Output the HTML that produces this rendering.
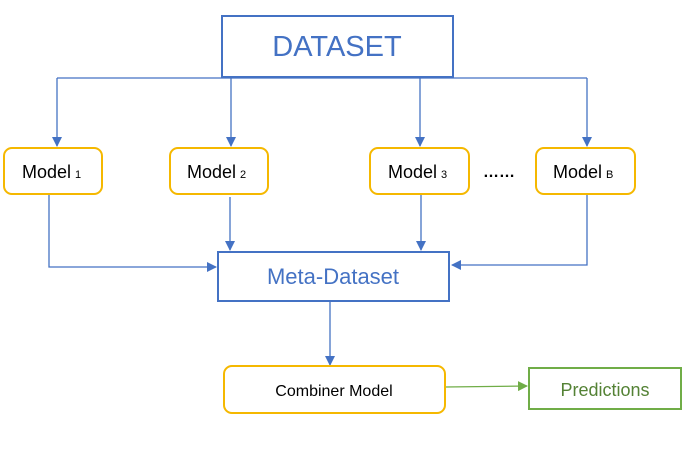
<!DOCTYPE html>
<html><head><style>
body{margin:0;background:#fff;}
svg text{font-family:"Liberation Sans",sans-serif;}
</style></head><body>
<svg width="687" height="444" xmlns="http://www.w3.org/2000/svg">
<defs>
<marker id="ab" markerWidth="10" markerHeight="10" refX="9" refY="5" orient="auto" markerUnits="userSpaceOnUse"><path d="M0,0 L10,5 L0,10 z" fill="#4472c4"/></marker>
<marker id="ag" markerWidth="10" markerHeight="10" refX="9" refY="5" orient="auto" markerUnits="userSpaceOnUse"><path d="M0,0 L10,5 L0,10 z" fill="#70ad47"/></marker>
</defs>
<g stroke="#4472c4" stroke-width="1.3" fill="none">
<polyline points="57,78 587,78"/>
<line x1="57" y1="78" x2="57" y2="146" marker-end="url(#ab)"/>
<line x1="231" y1="78" x2="231" y2="146" marker-end="url(#ab)"/>
<line x1="420" y1="78" x2="420" y2="146" marker-end="url(#ab)"/>
<line x1="587" y1="78" x2="587" y2="146" marker-end="url(#ab)"/>
<polyline points="49,195 49,267 216,267" marker-end="url(#ab)"/>
<line x1="230" y1="197" x2="230" y2="250" marker-end="url(#ab)"/>
<line x1="421" y1="195" x2="421" y2="250" marker-end="url(#ab)"/>
<polyline points="587,195 587,265 452,265" marker-end="url(#ab)"/>
<line x1="330" y1="301" x2="330" y2="365" marker-end="url(#ab)"/>
</g>
<line x1="445" y1="387" x2="527" y2="386" stroke="#70ad47" stroke-width="1.3" marker-end="url(#ag)"/>
<rect x="222" y="16" width="231" height="61" fill="#fff" stroke="#4472c4" stroke-width="2"/>
<text x="337" y="56" font-size="29" fill="#4472c4" text-anchor="middle">DATASET</text>
<g fill="#fff" stroke="#f5b800" stroke-width="2">
<rect x="4" y="148" width="98" height="46" rx="8"/>
<rect x="170" y="148" width="98" height="46" rx="8"/>
<rect x="370" y="148" width="99" height="46" rx="8"/>
<rect x="536" y="148" width="99" height="46" rx="8"/>
<rect x="224" y="366" width="221" height="47" rx="8"/>
</g>
<g font-size="18" fill="#000">
<text x="22" y="178">Model<tspan font-size="11" dx="4">1</tspan></text>
<text x="187" y="178">Model<tspan font-size="11" dx="4">2</tspan></text>
<text x="388" y="178">Model<tspan font-size="11" dx="4">3</tspan></text>
<text x="553" y="178">Model<tspan font-size="11" dx="4">B</tspan></text>
<text x="483" y="177" font-size="16" font-weight="bold">……</text>
<text x="334" y="396" font-size="16" text-anchor="middle">Combiner Model</text>
</g>
<rect x="218" y="252" width="231" height="49" fill="#fff" stroke="#4472c4" stroke-width="2"/>
<text x="333" y="284" font-size="22" fill="#4472c4" text-anchor="middle">Meta-Dataset</text>
<rect x="529" y="368" width="152" height="41" fill="#fff" stroke="#70ad47" stroke-width="2"/>
<text x="605" y="396" font-size="18" fill="#548235" text-anchor="middle">Predictions</text>
</svg>
</body></html>
